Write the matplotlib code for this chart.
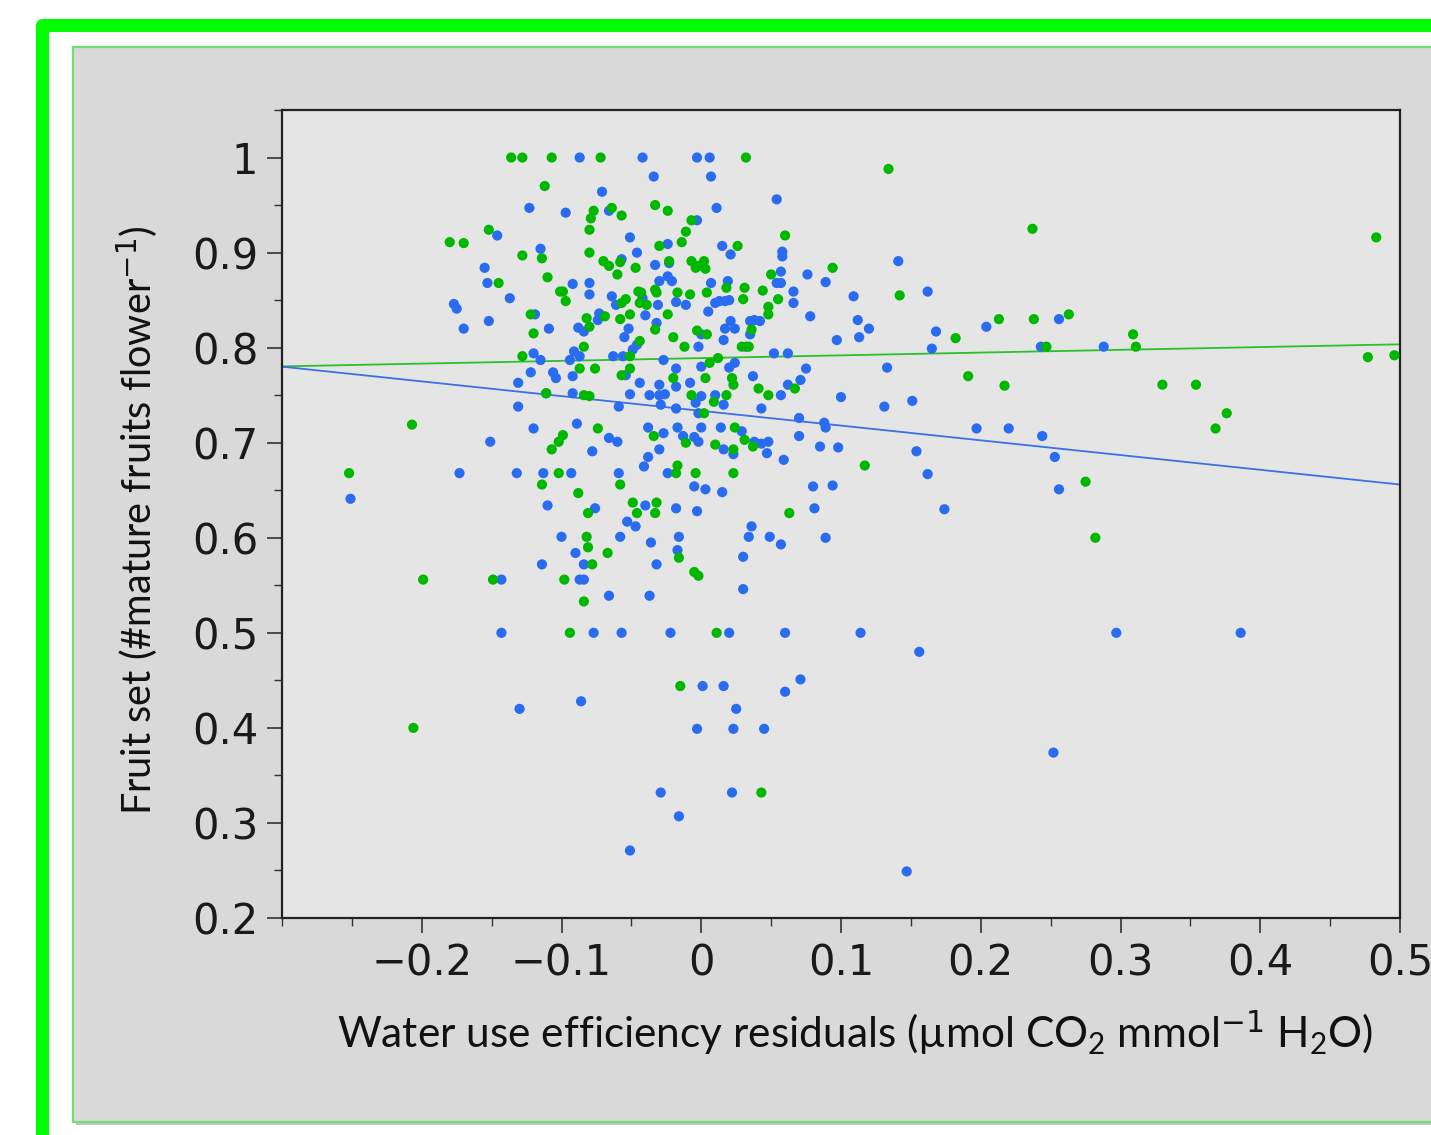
import matplotlib
matplotlib.use("Agg")
import matplotlib.pyplot as plt
from matplotlib.patches import Rectangle
from matplotlib.ticker import MultipleLocator
import numpy as np

# ---------------- data ----------------
green_x = [-0.136, -0.128, -0.107, -0.112, -0.152, -0.180, -0.170, -0.128, -0.114, -0.110,
           -0.145, -0.122, -0.120, -0.128, -0.111, -0.101, -0.072, 0.032, -0.077, -0.064,
           -0.057, -0.079, -0.033, -0.024, -0.007, -0.080, -0.011, 0.060, -0.014, -0.030,
           0.026, -0.080, -0.070, -0.066, -0.058, -0.060, -0.047, -0.023, -0.007, -0.002,
           0.002, 0.003, -0.004, 0.050, -0.099, -0.097, -0.054, -0.057, -0.045, -0.043,
           -0.044, -0.039, -0.033, -0.032, -0.017, -0.008, 0.018, 0.004, 0.031, 0.044,
           0.030, 0.055, 0.048, 0.048, -0.082, -0.069, -0.058, -0.051, -0.024, -0.033,
           -0.080, -0.020, -0.012, -0.003, 0.004, 0.036, 0.029, 0.034, -0.084, -0.044,
           -0.051, 0.012, 0.006, -0.087, -0.076, -0.051, -0.057, -0.020, 0.003, 0.022,
           0.023, 0.041, 0.067, -0.084, -0.007, 0.018, 0.048, -0.080, 0.002, 0.009,
           -0.074, 0.024, -0.099, -0.102, -0.107, -0.034, -0.011, 0.010, 0.031, 0.037,
           0.023, -0.102, -0.017, -0.018, -0.004, 0.023, -0.058, -0.114, -0.088, -0.081,
           -0.049, -0.032, -0.046, -0.033, 0.063, -0.082, -0.081, -0.067, -0.016, -0.078,
           -0.005, -0.002, -0.098, -0.084, -0.094, 0.011, -0.207, -0.252, -0.199, -0.149,
           -0.015, -0.206, 0.043, 0.134, 0.237, 0.483, 0.094, 0.142, 0.213, 0.238,
           0.263, 0.182, 0.247, 0.309, 0.311, 0.477, 0.496, 0.191, 0.217, 0.330,
           0.354, 0.376, 0.368, 0.117, 0.275, 0.282]
green_y = [1.000, 1.000, 1.000, 0.970, 0.924, 0.911, 0.910, 0.897, 0.894, 0.874,
           0.868, 0.835, 0.815, 0.791, 0.752, 0.859, 1.000, 1.000, 0.944, 0.947,
           0.939, 0.936, 0.950, 0.944, 0.934, 0.924, 0.922, 0.918, 0.911, 0.907,
           0.907, 0.900, 0.891, 0.886, 0.890, 0.877, 0.884, 0.891, 0.891, 0.886,
           0.891, 0.883, 0.884, 0.877, 0.859, 0.849, 0.851, 0.847, 0.859, 0.858,
           0.847, 0.845, 0.861, 0.858, 0.858, 0.856, 0.863, 0.858, 0.863, 0.860,
           0.851, 0.851, 0.843, 0.835, 0.831, 0.833, 0.830, 0.835, 0.835, 0.819,
           0.822, 0.811, 0.801, 0.818, 0.814, 0.819, 0.801, 0.801, 0.801, 0.807,
           0.791, 0.789, 0.784, 0.778, 0.778, 0.778, 0.771, 0.768, 0.768, 0.768,
           0.761, 0.757, 0.757, 0.750, 0.750, 0.750, 0.750, 0.749, 0.731, 0.743,
           0.715, 0.716, 0.708, 0.701, 0.693, 0.707, 0.700, 0.698, 0.703, 0.696,
           0.693, 0.668, 0.676, 0.668, 0.668, 0.668, 0.656, 0.656, 0.647, 0.626,
           0.637, 0.637, 0.626, 0.626, 0.626, 0.601, 0.590, 0.584, 0.579, 0.572,
           0.564, 0.560, 0.556, 0.533, 0.500, 0.500, 0.719, 0.668, 0.556, 0.556,
           0.444, 0.400, 0.332, 0.988, 0.925, 0.916, 0.884, 0.855, 0.830, 0.830,
           0.835, 0.810, 0.801, 0.814, 0.801, 0.790, 0.792, 0.770, 0.760, 0.761,
           0.761, 0.731, 0.715, 0.676, 0.659, 0.600]

blue_x = [-0.123, -0.146, -0.115, -0.155, -0.153, -0.137, -0.177, -0.175, -0.152, -0.170,
          -0.119, -0.109, -0.120, -0.115, -0.122, -0.106, -0.104, -0.131, -0.087, -0.042,
          -0.003, 0.006, -0.034, 0.007, -0.071, 0.054, -0.097, -0.066, 0.011, -0.003,
          -0.051, -0.024, 0.015, 0.021, -0.046, 0.058, 0.058, -0.057, -0.033, -0.023,
          -0.024, -0.021, -0.030, 0.057, 0.057, 0.054, 0.076, -0.092, -0.080, -0.080,
          -0.064, -0.061, -0.042, -0.031, -0.018, -0.011, 0.007, 0.019, 0.066, 0.066,
          0.010, 0.013, 0.017, 0.020, 0.005, 0.078, -0.073, -0.074, -0.040, -0.032,
          -0.088, -0.084, -0.052, -0.055, -0.002, 0.000, 0.016, 0.017, 0.021, 0.024,
          0.035, 0.038, 0.042, 0.035, 0.032, -0.046, -0.049, -0.091, -0.094, -0.087,
          -0.063, -0.056, 0.052, 0.062, -0.027, -0.018, 0.000, 0.020, 0.024, 0.075,
          -0.092, -0.054, 0.037, 0.071, -0.044, -0.030, -0.018, -0.008, 0.062, -0.111,
          -0.092, -0.051, -0.037, -0.030, 0.000, 0.010, 0.057, -0.026, -0.059, -0.029,
          -0.018, -0.004, -0.002, 0.016, 0.043, 0.070, -0.089, -0.038, -0.017, 0.000,
          0.014, 0.029, 0.070, -0.066, -0.060, -0.027, -0.013, -0.005, -0.002, 0.038,
          0.043, 0.048, 0.016, 0.023, 0.047, 0.059, 0.085, -0.078, -0.030, -0.038,
          -0.041, -0.113, -0.093, -0.059, -0.024, -0.005, 0.003, 0.015, 0.080, -0.110,
          -0.076, -0.040, -0.018, -0.003, 0.081, -0.053, -0.047, 0.036, 0.034, 0.049,
          0.057, -0.100, -0.058, -0.036, -0.016, -0.090, -0.017, 0.030, -0.084, -0.032,
          -0.114, -0.087, -0.084, 0.030, -0.066, -0.037, -0.131, -0.120, -0.151, -0.173,
          -0.132, -0.251, -0.143, -0.143, -0.077, -0.057, -0.022, 0.020, 0.060, 0.114,
          0.297, 0.386, 0.156, 0.071, 0.001, 0.016, 0.060, -0.130, -0.086, 0.025,
          -0.003, 0.023, 0.045, 0.252, -0.029, 0.022, -0.016, -0.051, 0.147, 0.141,
          0.089, 0.162, 0.109, 0.256, 0.112, 0.120, 0.113, 0.097, 0.168, 0.204,
          0.165, 0.243, 0.288, 0.133, 0.100, 0.131, 0.151, 0.088, 0.089, 0.098,
          0.197, 0.220, 0.244, 0.253, 0.154, 0.162, 0.094, 0.256, 0.174, 0.089]
blue_y = [0.947, 0.918, 0.904, 0.884, 0.868, 0.852, 0.846, 0.841, 0.828, 0.820,
          0.835, 0.820, 0.794, 0.787, 0.774, 0.774, 0.768, 0.763, 1.000, 1.000,
          1.000, 1.000, 0.980, 0.980, 0.964, 0.956, 0.942, 0.944, 0.947, 0.934,
          0.916, 0.909, 0.907, 0.898, 0.900, 0.896, 0.901, 0.893, 0.887, 0.889,
          0.875, 0.870, 0.870, 0.880, 0.868, 0.868, 0.877, 0.867, 0.868, 0.856,
          0.854, 0.845, 0.852, 0.845, 0.848, 0.845, 0.868, 0.870, 0.859, 0.847,
          0.847, 0.849, 0.849, 0.850, 0.838, 0.833, 0.836, 0.829, 0.834, 0.826,
          0.821, 0.817, 0.820, 0.811, 0.801, 0.814, 0.808, 0.820, 0.828, 0.820,
          0.828, 0.829, 0.828, 0.814, 0.801, 0.803, 0.798, 0.796, 0.787, 0.791,
          0.791, 0.791, 0.794, 0.794, 0.787, 0.778, 0.780, 0.779, 0.784, 0.778,
          0.770, 0.771, 0.770, 0.766, 0.763, 0.761, 0.759, 0.763, 0.761, 0.752,
          0.752, 0.751, 0.750, 0.750, 0.749, 0.750, 0.750, 0.751, 0.738, 0.740,
          0.736, 0.742, 0.731, 0.740, 0.736, 0.726, 0.720, 0.716, 0.716, 0.716,
          0.716, 0.712, 0.707, 0.705, 0.701, 0.710, 0.707, 0.706, 0.701, 0.701,
          0.699, 0.701, 0.693, 0.688, 0.689, 0.682, 0.696, 0.691, 0.693, 0.685,
          0.675, 0.668, 0.668, 0.668, 0.668, 0.654, 0.651, 0.648, 0.654, 0.634,
          0.631, 0.634, 0.631, 0.628, 0.631, 0.617, 0.612, 0.612, 0.601, 0.601,
          0.593, 0.601, 0.601, 0.595, 0.601, 0.584, 0.587, 0.580, 0.572, 0.572,
          0.572, 0.556, 0.556, 0.546, 0.539, 0.539, 0.738, 0.715, 0.701, 0.668,
          0.668, 0.641, 0.556, 0.500, 0.500, 0.500, 0.500, 0.500, 0.500, 0.500,
          0.500, 0.500, 0.480, 0.451, 0.444, 0.444, 0.438, 0.420, 0.428, 0.420,
          0.399, 0.399, 0.399, 0.374, 0.332, 0.332, 0.307, 0.271, 0.249, 0.891,
          0.869, 0.859, 0.854, 0.830, 0.829, 0.820, 0.811, 0.808, 0.817, 0.822,
          0.799, 0.801, 0.801, 0.779, 0.748, 0.738, 0.744, 0.721, 0.716, 0.695,
          0.715, 0.715, 0.707, 0.685, 0.691, 0.667, 0.655, 0.651, 0.630, 0.600]

# regression lines (intercept, slope)
green_fit = (0.789, 0.029)
blue_fit = (0.7335, -0.155)

x_range = [-0.3, 0.5]
x_ticks = [-0.2, -0.1, 0, 0.1, 0.2, 0.3, 0.4, 0.5]
x_ticklabels = ["\u22120.2", "\u22120.1", "0", "0.1", "0.2", "0.3", "0.4", "0.5"]
y_ticks = [0.2, 0.3, 0.4, 0.5, 0.6, 0.7, 0.8, 0.9, 1.0]
y_ticklabels = ["0.2", "0.3", "0.4", "0.5", "0.6", "0.7", "0.8", "0.9", "1"]

# ---------------- style ----------------
BLUE = "#2a6cf0"
GREEN = "#00b800"
BLUE_LINE = "#3b70e8"
GREEN_LINE = "#2cc02c"

plt.rcParams["mathtext.fontset"] = "custom"
plt.rcParams["mathtext.rm"] = "Lato"
plt.rcParams["mathtext.it"] = "Lato:italic"

W, H = 1431, 1135
fig = plt.figure(figsize=(W / 100, H / 100), dpi=100)
fig.patch.set_facecolor("white")

def fx(px):
    return px / W

def fy(py):
    return 1 - py / H

# bright green outer frame
outer = Rectangle((fx(41.5), fy(1300)), 1.5, fy(25) - fy(1300), transform=fig.transFigure,
                  facecolor="none", edgecolor="#00ff00", linewidth=13 * 0.72,
                  joinstyle="round", zorder=-10)
fig.add_artist(outer)

# panel shadow + panel
shadow = Rectangle((fx(76), fy(1125)), 1.5, fy(50) - fy(1125), transform=fig.transFigure,
                   facecolor="#c4c4c4", edgecolor="none", zorder=-9)
fig.add_artist(shadow)
panel = Rectangle((fx(73), fy(1122)), 1.5, fy(47) - fy(1122), transform=fig.transFigure,
                  facecolor="#d9d9d9", edgecolor="#6fe06f", linewidth=1.6, zorder=-8)
fig.add_artist(panel)

ax = fig.add_axes([fx(282), fy(918), fx(1400) - fx(282), fy(110) - fy(918)])
ax.set_facecolor("#e5e5e5")

ax.scatter(blue_x, blue_y, s=54, color=BLUE, edgecolors="none", zorder=3)
ax.scatter(green_x, green_y, s=54, color=GREEN, edgecolors="none", zorder=3)

xl = np.array(x_range)
ax.plot(xl, green_fit[0] + green_fit[1] * xl, color=GREEN_LINE, lw=1.3, zorder=2)
ax.plot(xl, blue_fit[0] + blue_fit[1] * xl, color=BLUE_LINE, lw=1.3, zorder=2)

ax.set_xlim(x_range)
ax.set_ylim(0.2, 1.05)

ax.set_xticks(x_ticks)
ax.set_xticklabels(x_ticklabels)
ax.set_yticks(y_ticks)
ax.set_yticklabels(y_ticklabels)
ax.xaxis.set_minor_locator(MultipleLocator(0.05))
ax.yaxis.set_minor_locator(MultipleLocator(0.05))

for sp in ax.spines.values():
    sp.set_color("#222222")
    sp.set_linewidth(1.6)

ax.tick_params(axis="both", which="major", direction="out", length=11, width=1.2,
               color="#333333", labelcolor="#1a1a1a", labelsize=30)
ax.tick_params(axis="both", which="minor", direction="out", length=6, width=1.0,
               color="#333333")
ax.tick_params(axis="x", which="major", pad=7)
ax.tick_params(axis="y", which="major", pad=6)
for lab in ax.get_xticklabels() + ax.get_yticklabels():
    lab.set_family("DejaVu Sans")

ax.set_xlabel("Water use efficiency residuals (\u00b5mol CO$_2$ mmol$^{\\mathsf{-1}}$ H$_2$O)",
              fontsize=30.5, family="Lato", color="#111111")
ax.xaxis.set_label_coords((855 - 282) / 1118, (918 - 1033) / 808)
ax.xaxis.label.set_va("center")

ax.set_ylabel("Fruit set (#mature fruits flower$^{\\mathsf{-1}}$)",
              fontsize=28.5, family="Lato", color="#111111")
ax.yaxis.set_label_coords((137 - 282) / 1118, (918 - 520) / 808)
ax.yaxis.label.set_va("center")

fig.savefig("out.png", dpi=100)
